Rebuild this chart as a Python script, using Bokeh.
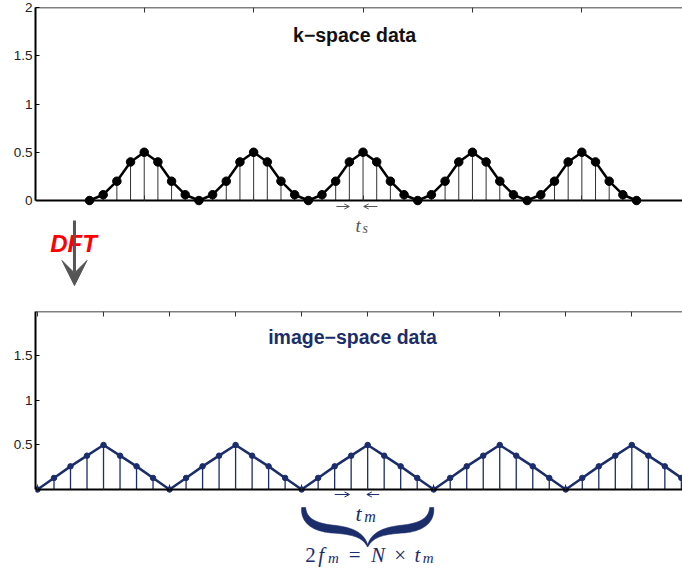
import numpy as np
from bokeh.plotting import figure
from bokeh.layouts import column
from bokeh.models import (Range1d, LinearAxis, FixedTicker, Arrow, OpenHead, VeeHead,
                          ColumnDataSource, CustomJSTickFormatter)
from bokeh.core.properties import value
from bokeh.embed import file_html
from bokeh.resources import INLINE

# ---------------- data ----------------
k_samples = list(range(41))
k_values = [0, 0.06, 0.2, 0.4, 0.5, 0.4, 0.2, 0.06,
            0, 0.06, 0.2, 0.4, 0.5, 0.4, 0.2, 0.06,
            0, 0.06, 0.2, 0.4, 0.5, 0.4, 0.2, 0.06,
            0, 0.06, 0.2, 0.4, 0.5, 0.4, 0.2, 0.06,
            0, 0.06, 0.2, 0.4, 0.5, 0.4, 0.2, 0.06,
            0]
img_samples = list(range(40))
img_values = [0, 0.13, 0.26, 0.38, 0.5, 0.38, 0.26, 0.13,
              0, 0.13, 0.26, 0.38, 0.5, 0.38, 0.26, 0.13,
              0, 0.13, 0.26, 0.38, 0.5, 0.38, 0.26, 0.13,
              0, 0.13, 0.26, 0.38, 0.5, 0.38, 0.26, 0.13,
              0, 0.13, 0.26, 0.38, 0.5, 0.38, 0.26, 0.13]
k_xticks = [-4, 4, 12, 20, 28, 36, 44]
img_xticks = [0, 4, 8, 12, 16, 20, 24, 28, 32, 36, 40]
k_yticks = [0, 0.5, 1, 1.5, 2]
img_yticks = [0.5, 1, 1.5]
k_title = "k\u2212space data"
img_title = "image\u2212space data"

NAVY = "#1b2d6b"
GRAY = "#555555"
LABEL_FONT = "Liberation Sans"
SERIF = "Liberation Serif"


def make_axes(p, xticks, yticks, ycolor):
    yax = LinearAxis(ticker=FixedTicker(ticks=yticks), bounds=(0, 2),
                     formatter=CustomJSTickFormatter(code="return String(tick);"),
                     major_tick_in=4, major_tick_out=0, minor_tick_line_color=None,
                     axis_line_width=2, axis_line_color="black",
                     major_tick_line_color="black", major_label_standoff=3,
                     major_label_text_font=LABEL_FONT, major_label_text_font_size="13.5px",
                     major_label_text_color=ycolor)
    p.add_layout(yax, "left")
    for loc, side, lw in ((2, "above", 1.5), (0, "below", 2)):
        ax = LinearAxis(ticker=FixedTicker(ticks=xticks), fixed_location=loc,
                        formatter=CustomJSTickFormatter(code="return '';"),
                        major_tick_in=5, major_tick_out=0, minor_tick_line_color=None,
                        axis_line_width=lw, axis_line_color="black",
                        major_tick_line_color="#333333", major_label_text_font_size="0px",
                        major_label_standoff=0)
        p.add_layout(ax, side)


# ---------------- top panel: k-space ----------------
p1 = figure(width=682, height=300, x_range=Range1d(-3.95, 43.36), y_range=Range1d(-1.036, 2),
            x_axis_location=None, y_axis_location=None, toolbar_location=None,
            output_backend="svg", min_border_left=35, min_border_right=0,
            min_border_top=7, min_border_bottom=0)
p1.outline_line_color = None
p1.xgrid.visible = False
p1.ygrid.visible = False
make_axes(p1, k_xticks, k_yticks, "#222222")

src1 = ColumnDataSource(dict(x=k_samples, y=k_values, z=[0] * len(k_samples)))
p1.segment(x0="x", y0="z", x1="x", y1="y", source=src1, line_color="#333333", line_width=1)
p1.line("x", "y", source=src1, line_color="black", line_width=2.5)
p1.scatter("x", "y", source=src1, size=8.5, fill_color="black", line_color="black")

p1.text(x=[19.38], y=[1.71], text=[k_title], text_font=value(LABEL_FONT),
        text_font_style="bold", text_font_size="19.5px", text_color="#111111",
        text_align="center", text_baseline="middle")

# t_s annotation
p1.add_layout(Arrow(x_start=18.05, y_start=-0.062, x_end=19.0, y_end=-0.062,
                    line_color=GRAY, line_width=1,
                    end=OpenHead(size=5, line_color=GRAY, line_width=1)))
p1.add_layout(Arrow(x_start=21.05, y_start=-0.062, x_end=20.05, y_end=-0.062,
                    line_color=GRAY, line_width=1,
                    end=OpenHead(size=5, line_color=GRAY, line_width=1)))
p1.text(x=[19.45], y=[-0.259], text=["t"], text_font=value(SERIF), text_font_style="italic",
        text_font_size="19px", text_color=GRAY, text_align="left", text_baseline="alphabetic")
p1.text(x=[19.97], y=[-0.290], text=["s"], text_font=value(SERIF), text_font_style="italic",
        text_font_size="14px", text_color=GRAY, text_align="left", text_baseline="alphabetic")

# DFT arrow
p1.text(x=[-1.17], y=[-0.446], text=["DFT"], text_font=value(LABEL_FONT),
        text_font_style="bold italic", text_font_size="24px", text_color="#ff0000",
        text_align="center", text_baseline="middle")
p1.add_layout(Arrow(x_start=-1.1, y_start=-0.207, x_end=-1.1, y_end=-0.881,
                    line_color=GRAY, line_width=3,
                    end=VeeHead(size=25, fill_color=GRAY, line_color=GRAY)))

# ---------------- bottom panel: image-space ----------------
p2 = figure(width=682, height=269, x_range=Range1d(-0.12, 39.07), y_range=Range1d(-0.899, 2),
            x_axis_location=None, y_axis_location=None, toolbar_location=None,
            output_backend="svg", min_border_left=31, min_border_right=0,
            min_border_top=11, min_border_bottom=0)
p2.outline_line_color = None
p2.xgrid.visible = False
p2.ygrid.visible = False
make_axes(p2, img_xticks, img_yticks, "#222222")

src2 = ColumnDataSource(dict(x=img_samples, y=img_values, z=[0] * len(img_samples)))
p2.segment(x0="x", y0="z", x1="x", y1="y", source=src2, line_color=NAVY, line_width=1.3)
p2.line("x", "y", source=src2, line_color=NAVY, line_width=2.5)
p2.scatter("x", "y", source=src2, size=5.5, fill_color=NAVY, line_color=NAVY)

p2.text(x=[19.08], y=[1.713], text=[img_title], text_font=value(LABEL_FONT),
        text_font_style="bold", text_font_size="19.5px", text_color=NAVY,
        text_align="center", text_baseline="middle")

# t_m annotation
p2.add_layout(Arrow(x_start=18.0, y_start=-0.056, x_end=18.9, y_end=-0.056,
                    line_color=NAVY, line_width=1,
                    end=OpenHead(size=5, line_color=NAVY, line_width=1)))
p2.add_layout(Arrow(x_start=20.7, y_start=-0.056, x_end=19.95, y_end=-0.056,
                    line_color=NAVY, line_width=1,
                    end=OpenHead(size=5, line_color=NAVY, line_width=1)))
p2.text(x=[19.45], y=[-0.27], text=["t"], text_font=value(SERIF), text_font_style="italic",
        text_font_size="22px", text_color=NAVY, text_align="center", text_baseline="alphabetic")
p2.text(x=[20.14], y=[-0.303], text=["m"], text_font=value(SERIF), text_font_style="italic",
        text_font_size="16px", text_color=NAVY, text_align="center", text_baseline="alphabetic")

# curly brace from sample 16 to sample 24 (shape built in pixel space, mapped to data)
SX = 651 / 39.19   # px per sample
SY = 258 / 2.899   # px per unit
b_left, b_right, b_top = 16.0, 24.0, -0.202
W = (b_right - b_left) * SX


def bez(p0, p1, p2_, p3, n=40):
    t = np.linspace(0, 1, n)[:, None]
    p0, p1, p2_, p3 = map(np.array, (p0, p1, p2_, p3))
    return (1 - t) ** 3 * p0 + 3 * (1 - t) ** 2 * t * p1 + 3 * (1 - t) * t ** 2 * p2_ + t ** 3 * p3


half_w = W / 2
c = np.vstack([bez((2, 0), (2, 13), (12, 19.5), (30, 21.5)),
               bez((30, 21.5), (50, 23), (62, 27), (half_w, 39))[1:]])
s = np.linspace(0, 1, len(c))
wid = 4.0 + 5.5 * np.sin(np.pi * s) - 3.2 * s
d = np.gradient(c, axis=0)
d /= np.linalg.norm(d, axis=1)[:, None]
nrm = np.column_stack([-d[:, 1], d[:, 0]])
e1 = c + nrm * wid[:, None] / 2
e2 = c - nrm * wid[:, None] / 2
poly = np.vstack([e1, e2[::-1]])
bx_l = b_left + poly[:, 0] / SX
by_l = b_top - poly[:, 1] / SY
bx_r = b_left + (W - poly[:, 0]) / SX
p2.patches(xs=[list(bx_l), list(bx_r)], ys=[list(by_l), list(by_l)],
           fill_color=NAVY, line_color=NAVY, line_width=0.6)

# formula 2 f_m = N x t_m  (glyphs centred in TeX-like boxes)
pieces = [("2", 16.53, -0.735, "normal", "21px"),
          ("f", 17.18, -0.735, "italic", "21px"),
          ("m", 17.93, -0.775, "italic", "15px"),
          ("=", 19.22, -0.735, "normal", "21px"),
          ("N", 20.63, -0.735, "italic", "21px"),
          ("\u00d7", 21.97, -0.735, "normal", "21px"),
          ("t", 23.02, -0.735, "italic", "21px"),
          ("m", 23.67, -0.775, "italic", "15px")]
for txt, xx, yy, sty, sz in pieces:
    p2.text(x=[xx], y=[yy], text=[txt], text_font=value(SERIF), text_font_style=sty,
            text_font_size=sz, text_color=NAVY, text_align="center", text_baseline="alphabetic")

layout = column(p1, p2, spacing=0)
open("out.html", "w").write(file_html(layout, INLINE))
